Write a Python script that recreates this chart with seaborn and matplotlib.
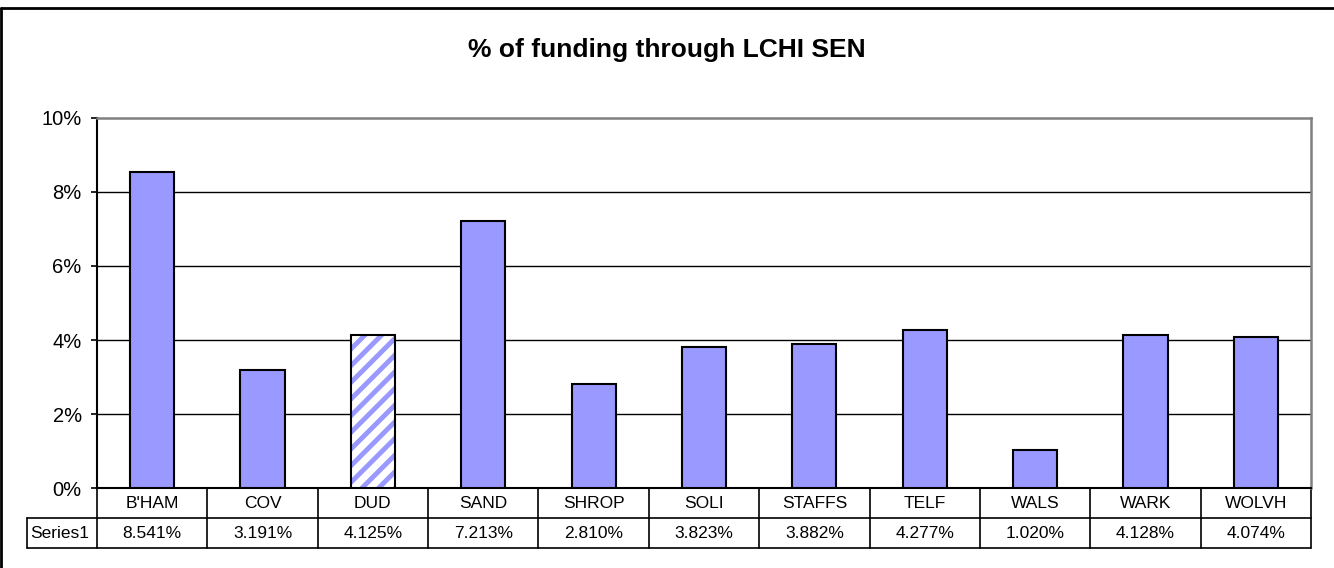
import matplotlib.pyplot as plt
import matplotlib.transforms as mtransforms
from matplotlib.lines import Line2D
from matplotlib.patches import Rectangle
from matplotlib.ticker import PercentFormatter
import seaborn as sns

# values
areas = ["B'HAM", "COV", "DUD", "SAND", "SHROP", "SOLI", "STAFFS", "TELF", "WALS", "WARK", "WOLVH"]
lchi_sen_pct = [8.541, 3.191, 4.125, 7.213, 2.810, 3.823, 3.882, 4.277, 1.020, 4.128, 4.074]
highlight_area = "DUD"
series_name = "Series1"
y_ticks = [0, 2, 4, 6, 8, 10]

bar_color = "#9999FF"

sns.set_theme(style="white")
plt.rcParams["font.family"] = ["Liberation Sans", "DejaVu Sans"]
plt.rcParams["hatch.linewidth"] = 3.5

fig, ax = plt.subplots(figsize=(13.34, 5.68), dpi=100)
fig.subplots_adjust(left=0.0727, right=0.9828, top=0.7923, bottom=0.1408)

sns.barplot(x=areas, y=lchi_sen_pct, color=bar_color, saturation=1, width=0.4,
            edgecolor="black", linewidth=1.5, ax=ax, zorder=3)

# hatched bar for the highlighted authority
for patch, name in zip(ax.patches, areas):
    if name == highlight_area:
        patch.set_facecolor("white")
        patch.set_edgecolor(bar_color)
        patch.set_hatch("//")
        patch.set_linewidth(0)
        ax.add_patch(Rectangle((patch.get_x(), 0), patch.get_width(), patch.get_height(),
                               fill=False, edgecolor="black", linewidth=1.5, zorder=4))

ax.set_xlim(-0.5, len(areas) - 0.5)
ax.set_ylim(0, 10)
ax.set_yticks(y_ticks)
ax.yaxis.set_major_formatter(PercentFormatter(decimals=0))
ax.tick_params(axis="y", which="major", direction="out", length=4.5, width=1.2,
               color="black", left=True, pad=6.5, labelsize=14.5, labelcolor="black")
ax.tick_params(axis="x", bottom=False, labelbottom=False)
ax.set_xlabel("")
ax.set_ylabel("")

for yv in y_ticks[1:-1]:
    ax.axhline(yv, color="black", linewidth=1, zorder=1)

for side in ["top", "right"]:
    ax.spines[side].set_color("#808080")
    ax.spines[side].set_linewidth(1.8)
for side in ["left", "bottom"]:
    ax.spines[side].set_color("black")
    ax.spines[side].set_linewidth(1.5)

# data table under the axis
trans = mtransforms.blended_transform_factory(ax.transData, ax.transAxes)
ax_h_px = 370.0
row1 = -30 / ax_h_px
row2 = -60 / ax_h_px
label_left = -0.5 - 70 / (1214 / len(areas))
lkw = dict(color="black", linewidth=1.2, transform=trans, clip_on=False)
ax.add_line(Line2D([-0.5, len(areas) - 0.5], [0, 0], **lkw))
ax.add_line(Line2D([label_left, len(areas) - 0.5], [row1, row1], **lkw))
ax.add_line(Line2D([label_left, len(areas) - 0.5], [row2, row2], **lkw))
ax.add_line(Line2D([label_left, label_left], [row1, row2], **lkw))
for i in range(len(areas) + 1):
    ax.add_line(Line2D([i - 0.5, i - 0.5], [0, row2], **lkw))

for i, (name, val) in enumerate(zip(areas, lchi_sen_pct)):
    ax.text(i, row1 / 2, name, transform=trans, ha="center", va="center",
            fontsize=12.5, color="black")
    ax.text(i, (row1 + row2) / 2, f"{val:.3f}%", transform=trans, ha="center",
            va="center", fontsize=12.5, color="black")
ax.text(label_left + 0.03, (row1 + row2) / 2, series_name, transform=trans,
        ha="left", va="center", fontsize=12.5, color="black")

fig.text(0.5, 1 - 50 / 568, "% of funding through LCHI SEN", ha="center", va="center",
         fontsize=19, fontweight="bold", color="black")

# outer chart frame (only top and left edges are inside the image)
fig.add_artist(Line2D([1.5 / 1334, 1], [1 - 7.5 / 568, 1 - 7.5 / 568],
                      transform=fig.transFigure, color="black", linewidth=2))
fig.add_artist(Line2D([1.5 / 1334, 1.5 / 1334], [0, 1 - 7.5 / 568],
                      transform=fig.transFigure, color="black", linewidth=2))

fig.savefig("out.png", dpi=100, facecolor="white")
